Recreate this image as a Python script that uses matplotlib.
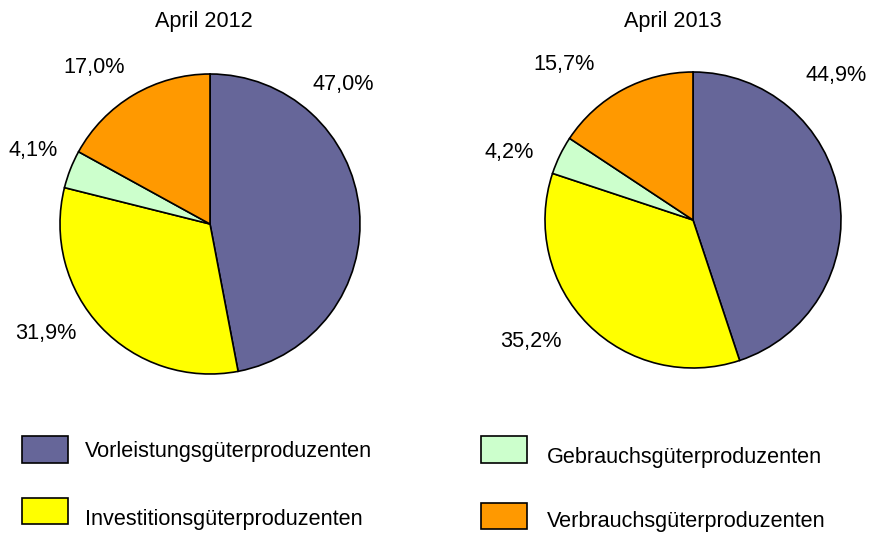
import matplotlib
matplotlib.use("Agg")
import matplotlib.pyplot as plt
from matplotlib.patches import Rectangle

plt.rcParams['font.family'] = ['Liberation Sans', 'DejaVu Sans']

categories = ["Vorleistungsgüterproduzenten", "Investitionsgüterproduzenten",
              "Gebrauchsgüterproduzenten", "Verbrauchsgüterproduzenten"]
titles = ["April 2012", "April 2013"]
values_2012 = [47.0, 31.9, 4.1, 17.0]
values_2013 = [44.9, 35.2, 4.2, 15.7]
colors = ["#666699", "#FFFF00", "#CCFFCC", "#FF9900"]

FS = 15.6
W, H = 869, 535
fig = plt.figure(figsize=(W / 100, H / 100), dpi=100)

# pie layouts in pixels: centre x, centre y (from top), radius
pies = [(210, 224, 150), (693, 220, 148)]
label_pos = [
    [(0.887, 0.927), (-1.093, -0.727), (-1.18, 0.487), (-0.773, 1.04)],
    [(0.966, 0.973), (-1.095, -0.818), (-1.243, 0.459), (-0.872, 1.054)],
]
title_px = [(203.5, 21), (672.5, 21)]

for (cx, cy, r), vals, lpos, title, tp in zip(pies, [values_2012, values_2013],
                                              label_pos, titles, title_px):
    ax = fig.add_axes([(cx - r) / W, (H - cy - r) / H, 2 * r / W, 2 * r / H])
    ax.pie(vals, colors=colors, startangle=90, counterclock=False,
           wedgeprops=dict(edgecolor="black", linewidth=1.2))
    ax.set_xlim(-1, 1)
    ax.set_ylim(-1, 1)
    ax.set_aspect("equal")
    ax.axis("off")
    for v, (lx, ly) in zip(vals, lpos):
        ax.text(lx, ly, f"{v:.1f}".replace(".", ",") + "%", ha="center",
                va="center", fontsize=FS, color="black")
    fig.text(tp[0] / W, 1 - tp[1] / H, title, ha="center", va="center",
             fontsize=FS, color="black")

# legend (pixel layout: patch x0, y0 top, w, h, text x, text y)
legend_layout = [
    (22, 436, 46, 27, 85, 452),
    (22, 498, 46, 26, 85, 520),
    (481, 436, 46, 27, 547, 458),
    (481, 503, 46, 26, 547, 521),
]
for cat, col, (px, py, pw, ph, tx, ty) in zip(categories, colors, legend_layout):
    fig.add_artist(Rectangle((px / W, 1 - (py + ph) / H), pw / W, ph / H,
                             transform=fig.transFigure, facecolor=col,
                             edgecolor="black", linewidth=1.2))
    fig.text(tx / W, 1 - ty / H, cat, ha="left", va="center", fontsize=FS,
             color="black")

fig.savefig("out.png", dpi=100)
